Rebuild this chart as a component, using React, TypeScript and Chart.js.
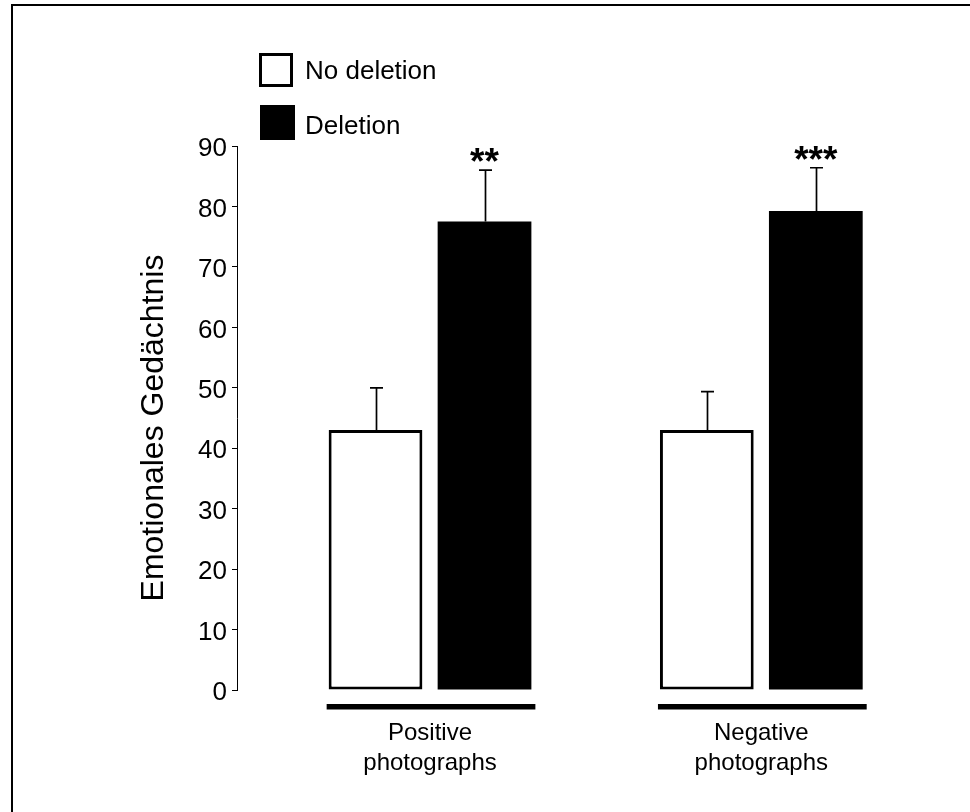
import React, { useEffect, useRef } from 'react';
import { Chart, registerables } from 'chart.js';

Chart.register(...registerables);

// ---- data ----
const categories: string[][] = [
  ['Positive', 'photographs'],
  ['Negative', 'photographs'],
];
const seriesLabels = ['No deletion', 'Deletion'];
const noDeletion = [43.0, 43.0];
const noDeletionErr = [7.0, 6.35];
const deletion = [77.5, 79.25];
const deletionErr = [8.5, 7.15];
const significance = ['**', '***'];
const yMin = 0;
const yMax = 90;
const yStep = 10;
const yTitle = 'Emotionales Gedächtnis';

const FONT = '"Liberation Sans", Arial, Helvetica, sans-serif';

const decorPlugin = {
  id: 'decor',
  afterDatasetsDraw(chart: any) {
    const ctx = chart.ctx as CanvasRenderingContext2D;
    const yScale = chart.scales.y;
    ctx.save();
    // error bars
    chart.data.datasets.forEach((ds: any, di: number) => {
      const meta = chart.getDatasetMeta(di);
      meta.data.forEach((el: any, i: number) => {
        const v = ds.data[i].y;
        const e = ds.errorBars[i];
        const top = yScale.getPixelForValue(v + e);
        const x = Math.round(el.x) + 0.5;
        ctx.strokeStyle = '#000';
        ctx.lineWidth = 1.7;
        ctx.beginPath();
        ctx.moveTo(x, el.y);
        ctx.lineTo(x, top);
        ctx.moveTo(x - 6.5, top);
        ctx.lineTo(x + 6.5, top);
        ctx.stroke();
      });
    });
    // significance stars
    const dsDel = chart.data.datasets[1];
    const metaDel = chart.getDatasetMeta(1);
    ctx.fillStyle = '#000';
    ctx.font = `bold 37px ${FONT}`;
    ctx.textAlign = 'center';
    ctx.textBaseline = 'alphabetic';
    metaDel.data.forEach((el: any, i: number) => {
      const top = yScale.getPixelForValue(dsDel.data[i].y + dsDel.errorBars[i]);
      ctx.fillText(significance[i], el.x, top + 4);
    });
    // group underlines
    const meta0 = chart.getDatasetMeta(0);
    const y0 = yScale.getPixelForValue(0);
    meta0.data.forEach((el: any, i: number) => {
      const el2 = metaDel.data[i];
      const left = el.x - el.width / 2 - 2;
      const right = el2.x + el2.width / 2 + 4;
      ctx.fillRect(left, y0 + 14, right - left, 5.5);
    });
    ctx.restore();
  },
  afterDraw(chart: any) {
    const ctx = chart.ctx as CanvasRenderingContext2D;
    ctx.save();
    // frame
    ctx.fillStyle = '#000';
    ctx.fillRect(11, 4, 2, chart.height - 4);
    ctx.fillRect(11, 4, chart.width - 11, 2);
    // legend
    ctx.strokeStyle = '#000';
    ctx.lineWidth = 3;
    ctx.fillStyle = '#fff';
    ctx.fillRect(260.5, 54.5, 31, 31);
    ctx.strokeRect(260.5, 54.5, 31, 31);
    ctx.fillStyle = '#000';
    ctx.fillRect(260, 105, 35, 35);
    ctx.font = `26px ${FONT}`;
    ctx.textAlign = 'left';
    ctx.textBaseline = 'alphabetic';
    ctx.fillText(chart.data.datasets[0].label, 305, 79);
    ctx.fillText(chart.data.datasets[1].label, 305, 134);
    // y title
    ctx.translate(163, 428);
    ctx.rotate(-Math.PI / 2);
    ctx.font = `32px ${FONT}`;
    ctx.textAlign = 'center';
    ctx.fillText(yTitle, 0, 0);
    ctx.restore();
  },
};

export default function App() {
  const ref = useRef<HTMLCanvasElement>(null);
  useEffect(() => {
    if (!ref.current) return;
    const chart = new Chart(ref.current, {
      type: 'bar',
      data: {
        datasets: [
          {
            label: seriesLabels[0],
            data: noDeletion.map((v, i) => ({ x: i + 1, y: v })),
            errorBars: noDeletionErr,
            backgroundColor: '#ffffff',
            borderColor: '#000000',
            borderWidth: 3,
            borderSkipped: false,
          } as any,
          {
            label: seriesLabels[1],
            data: deletion.map((v, i) => ({ x: i + 1, y: v })),
            errorBars: deletionErr,
            backgroundColor: '#000000',
            borderColor: '#000000',
            borderWidth: 0,
            borderSkipped: false,
          } as any,
        ],
      },
      options: {
        animation: false,
        responsive: false,
        devicePixelRatio: 1,
        events: [],
        categoryPercentage: 0.658,
        barPercentage: 0.86,
        layout: { padding: { left: 0, top: 146, right: 70, bottom: 0 } },
        plugins: { legend: { display: false }, tooltip: { enabled: false } },
        scales: {
          x: {
            type: 'linear',
            min: 0.4174,
            max: 2.4186,
            offset: false,
            grid: { display: false },
            border: { display: false },
            afterBuildTicks: (scale: any) => {
              scale.ticks = categories.map((_, i) => ({ value: i + 1 }));
            },
            afterFit: (scale: any) => {
              scale.height = 122;
            },
            ticks: {
              autoSkip: false,
              maxRotation: 0,
              padding: 20,
              color: '#000',
              font: { family: FONT, size: 24, lineHeight: 1.25 },
              callback: (value: any) => categories[Number(value) - 1] ?? '',
            },
          },
          y: {
            type: 'linear',
            min: yMin,
            max: yMax,
            grid: {
              display: true,
              drawOnChartArea: false,
              drawTicks: true,
              tickLength: 5,
              color: '#000',
              lineWidth: 1,
            },
            border: { display: true, color: '#000', width: 1 },
            afterFit: (scale: any) => {
              scale.width = 237;
            },
            ticks: {
              stepSize: yStep,
              padding: 5,
              labelOffset: 3,
              color: '#000',
              font: { family: FONT, size: 26 },
            },
          },
        },
      } as any,
      plugins: [decorPlugin],
    });
    return () => chart.destroy();
  }, []);
  return (
    <div style={{ position: 'absolute', left: 0, top: 0, width: 970, height: 812, background: '#fff' }}>
      <canvas ref={ref} width={970} height={812} style={{ display: 'block' }} />
    </div>
  );
}
